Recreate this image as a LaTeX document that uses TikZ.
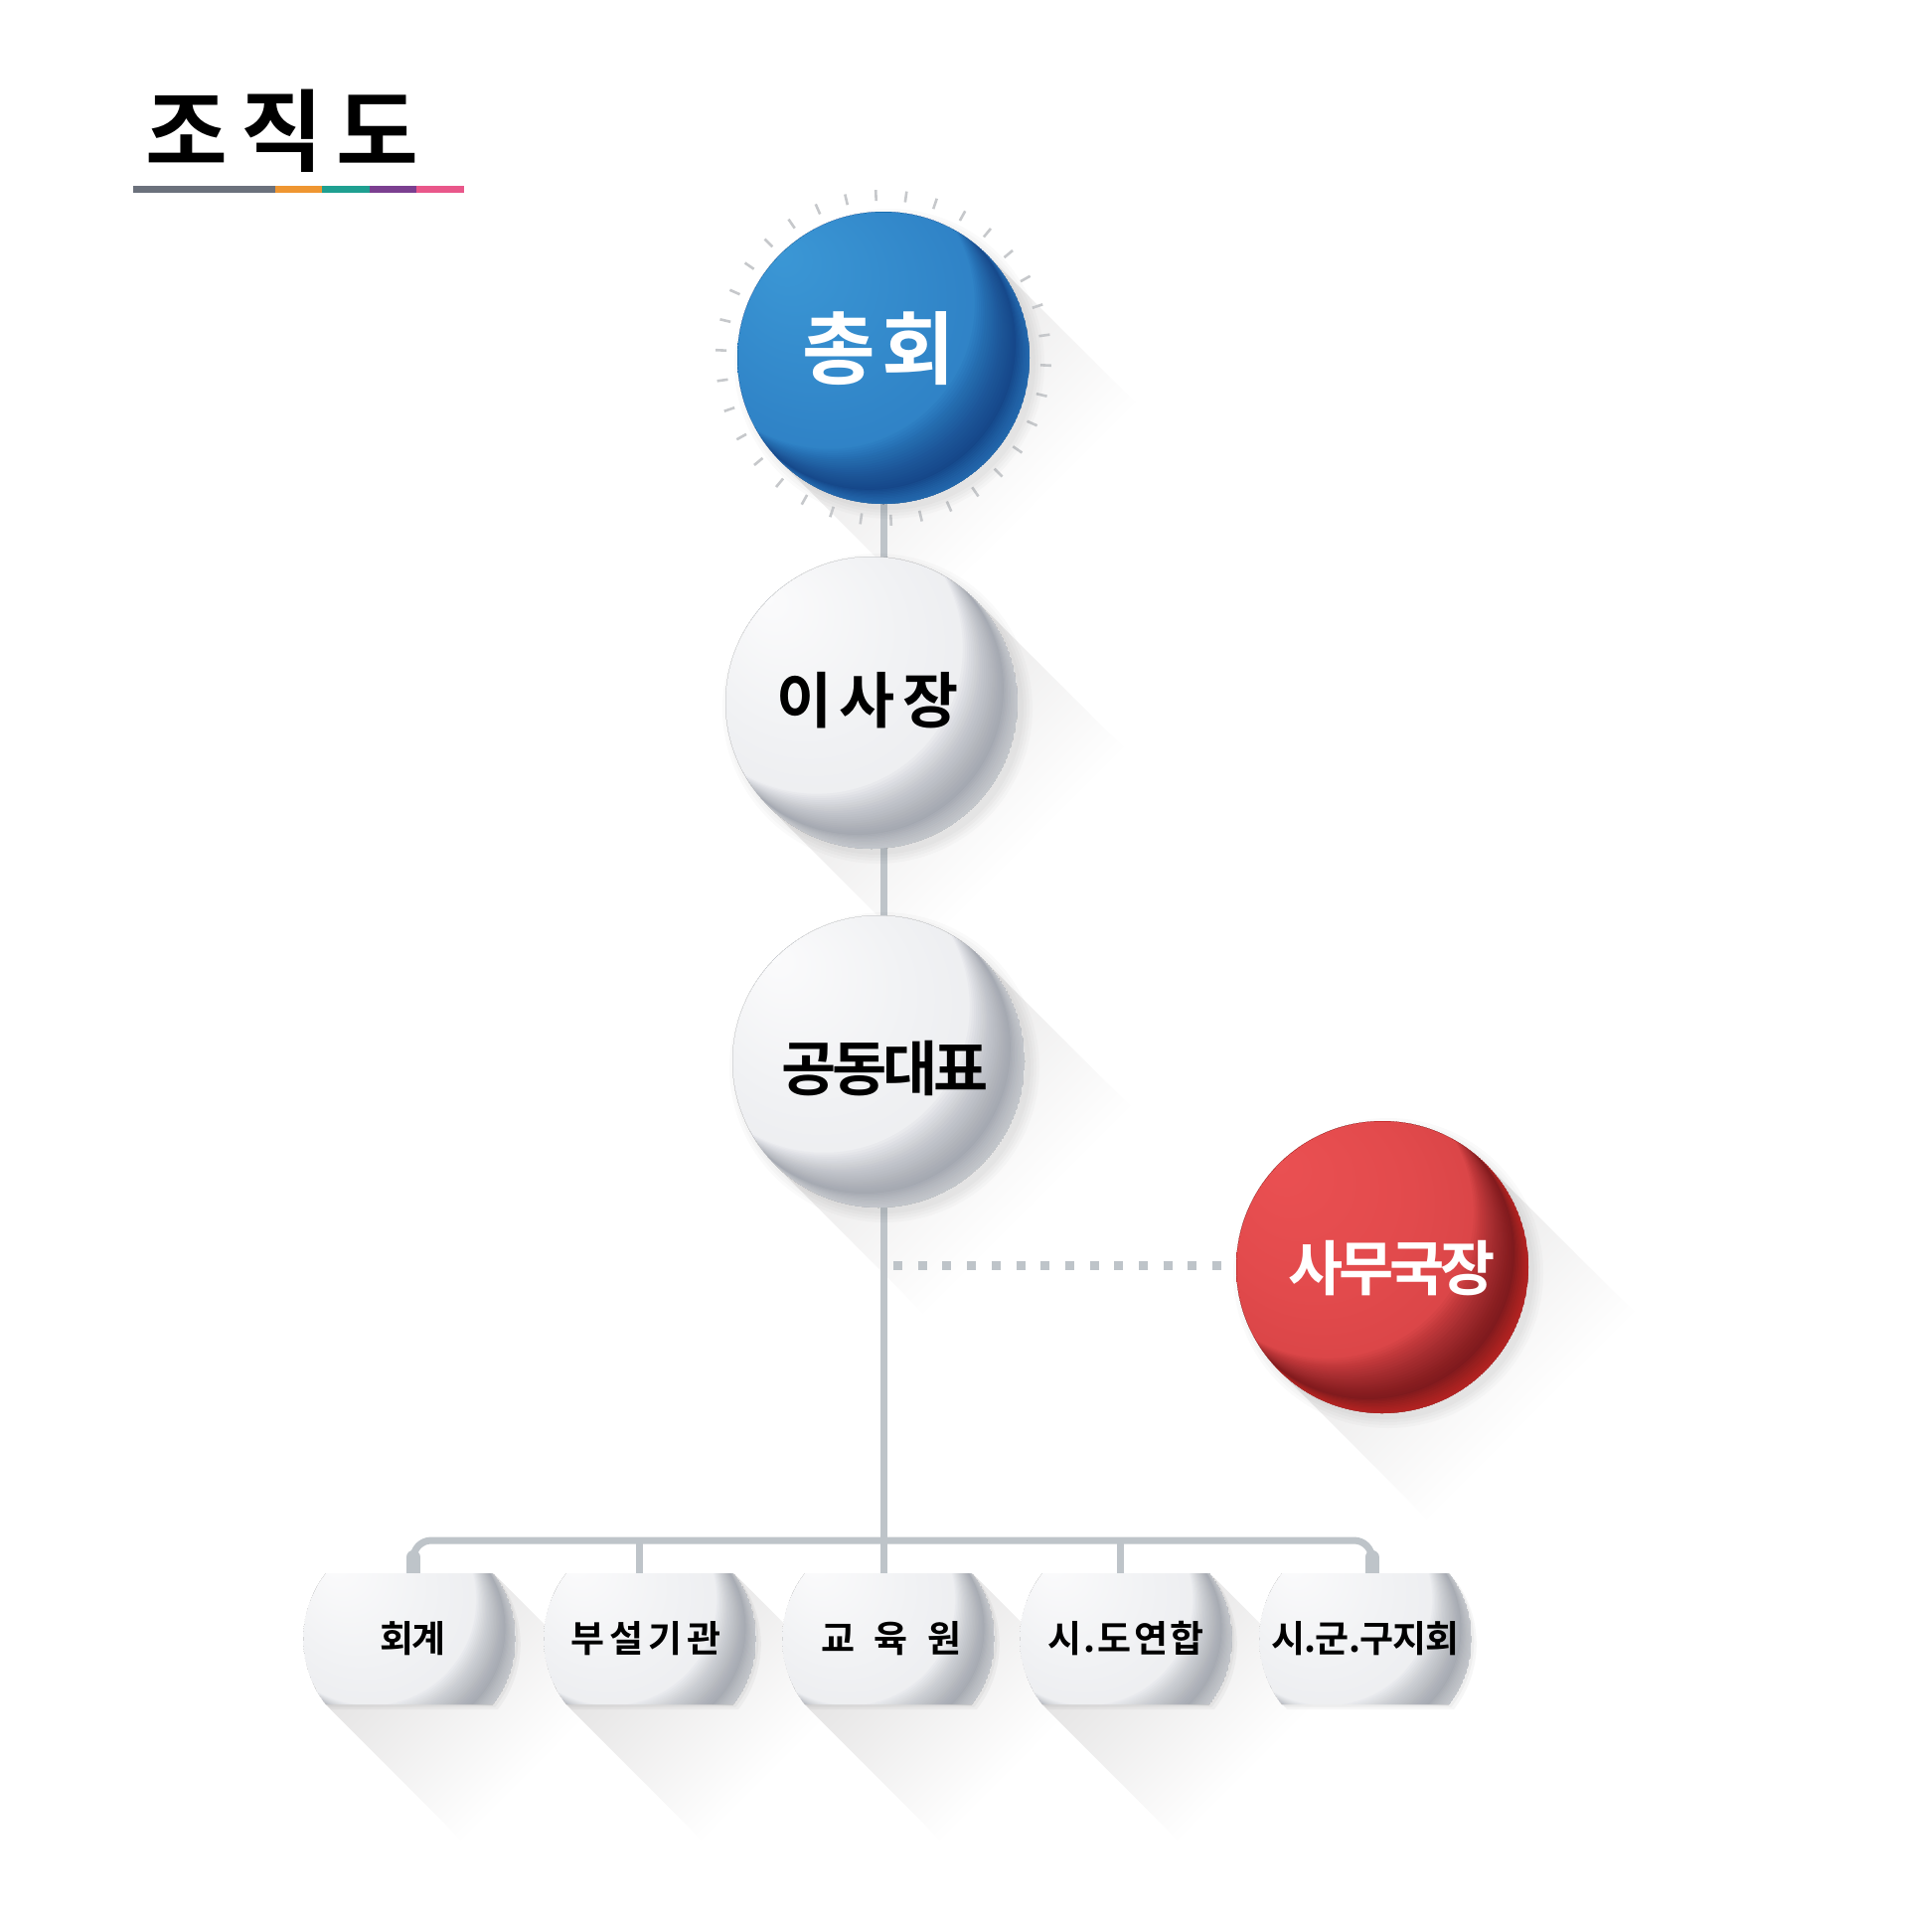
\documentclass[tikz,border=0pt]{standalone}
\usepackage{fontspec}
\setmainfont{Noto Sans CJK KR}[BoldFont={Noto Sans CJK KR Bold}]
\usetikzlibrary{calc}

\definecolor{lineg}{HTML}{BEC4C9}
\definecolor{tickg}{HTML}{C6C8CB}
\definecolor{shadowc}{HTML}{E5E4E4}
\definecolor{barGray}{HTML}{6B717C}
\definecolor{barOrange}{HTML}{EF9631}
\definecolor{barTeal}{HTML}{1FA091}
\definecolor{barPurple}{HTML}{7B3F90}
\definecolor{barPink}{HTML}{E9578A}

\pgfdeclareverticalshading{lsh}{100bp}{color(0bp)=(white); color(38bp)=(white); color(70bp)=(shadowc); color(100bp)=(shadowc)}

% white sphere
\definecolor{whA}{HTML}{FBFBFC}
\definecolor{whB}{HTML}{F1F2F4}
\definecolor{whC}{HTML}{EBECEF}
\definecolor{whD}{HTML}{E3E5E8}
\definecolor{whE}{HTML}{DADCE0}
\definecolor{whF}{HTML}{D3D6DA}
\definecolor{whDark}{HTML}{767C88}
\definecolor{whRim}{HTML}{E4E6E9}
\pgfdeclareradialshading{wsph}{\pgfpoint{-18bp}{18bp}}{color(0bp)=(whA); color(17bp)=(whB); color(30bp)=(whC); color(40bp)=(whD); color(46bp)=(whE); color(50bp)=(whF)}

% blue sphere
\definecolor{blA}{HTML}{3B97D5}
\definecolor{blB}{HTML}{3389CB}
\definecolor{blC}{HTML}{2D7EC3}
\definecolor{blD}{HTML}{2873BA}
\definecolor{blE}{HTML}{2166AF}
\definecolor{blF}{HTML}{1F5FA9}
\definecolor{blDark}{HTML}{0C2564}
\definecolor{blRim}{HTML}{3589D0}
\pgfdeclareradialshading{bsph}{\pgfpoint{-18bp}{18bp}}{color(0bp)=(blA); color(17bp)=(blB); color(30bp)=(blC); color(40bp)=(blD); color(46bp)=(blE); color(50bp)=(blF)}

% red sphere
\definecolor{rdA}{HTML}{EA5052}
\definecolor{rdB}{HTML}{E24A4C}
\definecolor{rdC}{HTML}{D64345}
\definecolor{rdD}{HTML}{C83B3E}
\definecolor{rdE}{HTML}{B93235}
\definecolor{rdF}{HTML}{B02E32}
\definecolor{rdDark}{HTML}{430408}
\definecolor{rdRim}{HTML}{E2342F}
\pgfdeclareradialshading{rsph}{\pgfpoint{-18bp}{18bp}}{color(0bp)=(rdA); color(17bp)=(rdB); color(30bp)=(rdC); color(40bp)=(rdD); color(46bp)=(rdE); color(50bp)=(rdF)}

\pgfdeclarelayer{backdrop}
\pgfdeclarelayer{shad}
\pgfdeclarelayer{lines}
\pgfdeclarelayer{shapes}
\pgfsetlayers{backdrop,shad,lines,shapes,main}

\begin{document}
\begin{tikzpicture}[x=1pt,y=-1pt,
  conn/.style={draw=lineg, line width=7pt},
  dotsline/.style={draw=lineg, line width=9pt, dash pattern=on 9pt off 15.7pt},
  tickmark/.style={draw=tickg, line width=2.6pt},
  ball/.style={circle, minimum size=294pt, inner sep=0pt},
  longshade/.style={shading=lsh, shading angle=45},
  flat/.style={rectangle, minimum width=168pt, minimum height=132pt, inner sep=0pt,
    font=\bfseries\fontsize{37}{40}\selectfont, text=black},
  lbl/.style={inner sep=0pt},
  flatshape/.style={insert path={(-84,-66) -- (84,-66) arc[start angle=-38.1, end angle=38.1, radius=107] -- (-84,66) arc[start angle=141.9, end angle=218.1, radius=107] -- cycle}}
]
\useasboundingbox (0,0) rectangle (1920,1944);
\begin{pgfonlayer}{backdrop}
\fill[white] (0,0) rectangle (1920,1944);
\end{pgfonlayer}

% title
\node[lbl, font=\bfseries\fontsize{90}{98}\selectfont] (title) at (284,132) {\addfontfeatures{LetterSpace=15}조직도};
\fill[barGray] (134,187) rectangle (277,194);
\fill[barOrange] (277,187) rectangle (324,194);
\fill[barTeal] (324,187) rectangle (372,194);
\fill[barPurple] (372,187) rectangle (419,194);
\fill[barPink] (419,187) rectangle (467,194);

% sphere nodes
\node[ball] (chonghoe) at (889,360) {};
\node[ball] (isajang) at (877,707) {};
\node[ball] (daepyo) at (884,1068) {};
\node[ball] (samu) at (1391,1275) {};

\node[lbl, text=white, font=\bfseries\fontsize{80}{88}\selectfont] (chonghoe-t) at (884,351) {\addfontfeatures{LetterSpace=8}총회};
\node[lbl, text=black, font=\bfseries\fontsize{61}{68}\selectfont] (isajang-t) at (873,705) {\addfontfeatures{LetterSpace=12}이사장};
\node[lbl, text=black, font=\bfseries\fontsize{60}{66}\selectfont] (daepyo-t) at (891,1075) {\addfontfeatures{LetterSpace=-7}공동대표};
\node[lbl, text=white, font=\bfseries\fontsize{60}{66}\selectfont] (samu-t) at (1401,1276) {\addfontfeatures{LetterSpace=-7}사무국장};

% bottom nodes
\node[flat] (hoegye) at (412,1649) {\hspace*{7pt}\addfontfeatures{LetterSpace=-4}회계};
\node[flat] (buseol) at (654,1649) {\hspace*{-8pt}\addfontfeatures{LetterSpace=14}부설기관};
\node[flat] (gyoyuk) at (894,1649) {\hspace*{6pt}\addfontfeatures{LetterSpace=52}교육원};
\node[flat] (sido) at (1133,1649) {\addfontfeatures{LetterSpace=6}시.도연합};
\node[flat] (sigun) at (1374,1649) {\addfontfeatures{LetterSpace=-2}시.군.구지회};

% sphere bodies
\begin{pgfonlayer}{shapes}
\foreach \n/\sh/\dk/\rimc in {chonghoe/bsph/blDark/blRim, isajang/wsph/whDark/whRim, daepyo/wsph/whDark/whRim, samu/rsph/rdDark/rdRim}{
  \begin{scope}[shift={(\n.center)}]
    \foreach \k in {0,3,6,9}{
      \fill[black, fill opacity=0.02] (6,6) circle[radius=147+\k];
    }
    \begin{scope}
      \clip (0,0) circle[radius=147];
      \shade[shading=\sh] (0,0) circle[radius=147];
      \foreach \dd in {3,6,...,78}{
        \fill[\dk, fill opacity=0.038, even odd rule] (0,0) circle[radius=147] ({-\dd*0.7071},{-\dd*0.7071}) circle[radius=147];
      }
      \foreach \dd in {2,4,...,20}{
        \fill[\rimc, fill opacity=0.09, even odd rule] (0,0) circle[radius=147] ({-\dd*0.7071},{-\dd*0.7071}) circle[radius=147];
      }
    \end{scope}
  \end{scope}
}
\foreach \n in {hoegye,buseol,gyoyuk,sido,sigun}{
  \begin{scope}[shift={(\n.center)}]
    \begin{scope}[shift={(5,5)}]
      \fill[black, fill opacity=0.035, flatshape];
    \end{scope}
    \begin{scope}[shift={(2.5,2.5)}]
      \fill[black, fill opacity=0.035, flatshape];
    \end{scope}
    \begin{scope}
      \clip[flatshape];
      \shade[shading=wsph] (0,0) circle[radius=107];
      \foreach \dd in {2,4,...,56}{
        \fill[whDark, fill opacity=0.036, even odd rule] (0,0) circle[radius=107] ({-\dd*0.7071},{-\dd*0.7071}) circle[radius=107];
      }
      \foreach \dd in {1.5,3,...,15}{
        \fill[whRim, fill opacity=0.09, even odd rule] (0,0) circle[radius=107] ({-\dd*0.7071},{-\dd*0.7071}) circle[radius=107];
      }
    \end{scope}
  \end{scope}
}
\end{pgfonlayer}

% long shadows
\begin{pgfonlayer}{shad}
\foreach \n in {chonghoe,isajang,daepyo,samu}{
  \shade[longshade] (\n.45) -- ($(\n.45)+(175,175)$) -- ($(\n.225)+(175,175)$) -- (\n.225) -- cycle;
}
\foreach \n in {hoegye,buseol,gyoyuk,sido}{
  \shade[longshade] (\n.north east) -- ($(\n.north east)+(155,155)$) -- ($(\n.south west)+(155,155)$) -- (\n.south west) -- cycle;
}
\end{pgfonlayer}

% ticks and connectors
\begin{pgfonlayer}{lines}
\foreach \k in {0,...,33}{
  \pgfmathsetmacro\a{-135-\k*360/34}
  \draw[tickmark] (chonghoe.center) ++(\a:158) -- ++(\a:11);
}
\draw[conn] (chonghoe.center) -- (isajang.center -| chonghoe.center);
\draw[conn] (isajang.center -| chonghoe.center) -- (daepyo.center -| chonghoe.center);
\draw[conn] (daepyo.center -| chonghoe.center) -- (gyoyuk.north -| chonghoe.center);
\draw[dotsline] ($(samu.west -| chonghoe.center)+(10,-2)$) -- ($(samu.west)+(-6,-2)$);
\coordinate (barmid) at (890,1550);
\draw[conn, rounded corners=18pt] ([xshift=4pt]hoegye.north) |- (barmid) -| ([xshift=6.5pt]sigun.north);
\draw[draw=lineg, line width=14pt, line cap=round] ([xshift=4pt]hoegye.north) -- ++(0,-16);
\draw[draw=lineg, line width=14pt, line cap=round] ([xshift=6.5pt]sigun.north) -- ++(0,-16);
\draw[conn] ([xshift=-10.5pt]buseol.north) -- ([xshift=-10.5pt]buseol.north |- barmid);
\draw[conn] ([xshift=-6pt]sido.north) -- ([xshift=-6pt]sido.north |- barmid);
\end{pgfonlayer}
\end{tikzpicture}
\end{document}
